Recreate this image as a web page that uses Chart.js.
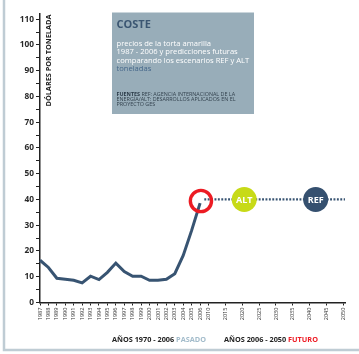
<!DOCTYPE html>
<html>
<head>
<meta charset="utf-8">
<script src="https://cdn.jsdelivr.net/npm/chart.js@4.4.1/dist/chart.umd.min.js"></script>
<style>
  html, body { margin: 0; padding: 0; background: #ffffff; }
  #wrap { width: 359px; height: 354px; position: relative; }
</style>
</head>
<body>
<div id="wrap"><canvas id="c" width="359" height="354"></canvas></div>
<script>
// Yearly yellowcake price, USD per tonne
const years = [1987, 1988, 1989, 1990, 1991, 1992, 1993, 1994, 1995, 1996,
               1997, 1998, 1999, 2000, 2001, 2002, 2003, 2004, 2005, 2006];
const prices = [16.4, 13.6, 9.4, 9.0, 8.6, 7.6, 10.2, 8.9, 11.7, 15.3,
                12.0, 10.2, 10.2, 8.6, 8.6, 9.0, 11.2, 18.3, 28.0, 38.6];

// Axis tick labels along the time axis
const tickYears = [1987, 1988, 1989, 1990, 1991, 1992, 1993, 1994, 1995, 1996,
                   1997, 1998, 1999, 2000, 2001, 2002, 2003, 2004, 2005, 2006,
                   2010, 2015, 2020, 2025, 2030, 2035, 2040, 2045, 2050];

// Future scenarios (price level and year)
const scenarioNames = ['ALT', 'REF'];
const scenarioYears = [2020.6, 2041.8];
const scenarioPrice = 40;
const currentPoint = { year: 2006.4, price: 39.4 };
const projectionSpan = [2008, 2050.5];

// Time axis is compressed after 2006: yearly steps to 2006, then 2006-2010, then 5-year steps
function yearToPos(y) {
  if (y <= 2006) return y - 1987;
  if (y <= 2010) return 19 + (y - 2006) / 4;
  return 20 + (y - 2010) * 2 / 5;
}
const posToLabel = {};
tickYears.forEach(y => { posToLabel[yearToPos(y)] = String(y); });

const lineColor = '#385472';
const fontFam = '"Open Sans", "Noto Sans", sans-serif';

const historyData = years.map((y, i) => ({ x: yearToPos(y), y: prices[i] }));
const projectionData = projectionSpan.map(y => ({ x: yearToPos(y), y: scenarioPrice }));

// Text decorations: frame, axis title, info box, footer legend, bubble labels
const decor = {
  id: 'decor',
  beforeDraw(chart) {
    const ctx = chart.ctx;
    ctx.save();
    ctx.fillStyle = '#ffffff';
    ctx.fillRect(0, 0, chart.width, chart.height);
    ctx.strokeStyle = '#bfccd4';
    ctx.lineWidth = 2.5;
    ctx.beginPath();
    ctx.moveTo(4, 0);
    ctx.lineTo(4, 350);
    ctx.lineTo(359, 350);
    ctx.stroke();
    ctx.restore();
  },
  afterDraw(chart) {
    const ctx = chart.ctx;
    ctx.save();

    // vertical axis title, inside the plot next to the axis
    ctx.save();
    ctx.translate(48.5, 60.5);
    ctx.rotate(-Math.PI / 2);
    ctx.fillStyle = '#222222';
    ctx.font = 'bold 7.3px ' + fontFam;
    ctx.textAlign = 'center';
    ctx.textBaseline = 'middle';
    ctx.fillText('DÓLARES POR TONELADA', 0, 0);
    ctx.restore();

    // info box
    ctx.fillStyle = '#98adb9';
    ctx.fillRect(112, 12.5, 142, 101.5);
    ctx.textBaseline = 'alphabetic';
    ctx.textAlign = 'left';
    ctx.fillStyle = '#3b5672';
    ctx.font = 'bold 11px ' + fontFam;
    ctx.fillText('COSTE', 116.5, 28);
    ctx.font = '7.6px ' + fontFam;
    ctx.fillStyle = '#ffffff';
    const body = ['precios de la torta amarilla',
                  '1987 - 2006 y predicciones futuras',
                  'comparando los escenarios REF y ALT'];
    body.forEach((t, i) => ctx.fillText(t, 116.5, 46 + i * 8.4));
    ctx.fillStyle = '#45678a';
    ctx.fillText('toneladas', 116.5, 46 + 3 * 8.4);

    ctx.font = 'bold 5.4px ' + fontFam;
    ctx.fillStyle = '#2b3b48';
    ctx.fillText('FUENTES', 116.5, 96);
    const fw = ctx.measureText('FUENTES ').width;
    ctx.font = '5.4px ' + fontFam;
    ctx.fillStyle = '#34434f';
    ctx.fillText('REF: AGENCIA INTERNACIONAL DE LA', 116.5 + fw, 96);
    ctx.fillText('ENERGÍA/ALT: DESARROLLOS APLICADOS EN EL', 116.5, 100.8);
    ctx.fillText('PROYECTO GES', 116.5, 105.6);

    // footer legend
    const drawParts = (parts, x, y) => {
      parts.forEach(p => {
        ctx.fillStyle = p.c;
        ctx.fillText(p.t, x, y);
        x += ctx.measureText(p.t).width;
      });
    };
    ctx.font = 'bold 7.3px ' + fontFam;
    drawParts([{ t: 'AÑOS 1970 - 2006 ', c: '#222222' }, { t: 'PASADO', c: '#a3bccb' }], 112, 342);
    drawParts([{ t: 'AÑOS 2006 - 2050 ', c: '#222222' }, { t: 'FUTURO', c: '#ee1c25' }], 224, 342);

    // scenario bubble labels, positioned from the scenario points
    const meta = chart.getDatasetMeta(3);
    ctx.font = 'bold 9px ' + fontFam;
    ctx.fillStyle = '#ffffff';
    ctx.textAlign = 'center';
    ctx.textBaseline = 'middle';
    meta.data.forEach((pt, i) => {
      ctx.fillText(scenarioNames[i], pt.x, pt.y + 0.5);
    });
    ctx.restore();
  }
};

new Chart(document.getElementById('c'), {
  type: 'line',
  data: {
    datasets: [
      {
        label: 'precio',
        data: historyData,
        borderColor: lineColor,
        borderWidth: 3,
        pointRadius: 0,
        tension: 0,
        order: 3,
        clip: false
      },
      {
        label: 'proyección',
        data: projectionData,
        borderColor: lineColor,
        borderWidth: 2.2,
        borderDash: [1.9, 1.5],
        pointRadius: 0,
        order: 4,
        clip: false
      },
      {
        label: 'actual',
        type: 'scatter',
        data: [{ x: yearToPos(currentPoint.year), y: currentPoint.price }],
        pointRadius: 10.6,
        pointBorderWidth: 3.4,
        pointBorderColor: '#ec1b23',
        pointBackgroundColor: 'rgba(0,0,0,0)',
        order: 1,
        clip: false
      },
      {
        label: 'escenarios',
        type: 'scatter',
        data: scenarioYears.map(y => ({ x: yearToPos(y), y: scenarioPrice })),
        pointRadius: 12.5,
        pointBorderWidth: 0,
        pointBackgroundColor: ['#c7da17', '#35506f'],
        order: 0,
        clip: false
      }
    ]
  },
  options: {
    responsive: false,
    animation: false,
    events: [],
    layout: { padding: { top: 12, right: 4, bottom: 0, left: 0 } },
    plugins: { legend: { display: false }, tooltip: { enabled: false } },
    scales: {
      x: {
        type: 'linear',
        min: 0,
        max: 36.2,
        afterFit(s) { s.height = 51.5; },
        afterBuildTicks(s) {
          s.ticks = tickYears.map(y => ({ value: yearToPos(y) }));
        },
        border: { display: true, color: '#222222', width: 1.5 },
        grid: { display: true, drawOnChartArea: false, drawTicks: true, tickLength: 3, color: '#222222', lineWidth: 1 },
        ticks: {
          autoSkip: false,
          minRotation: 90,
          maxRotation: 90,
          padding: 2,
          color: '#333333',
          font: { family: fontFam, size: 5.6 },
          callback: v => posToLabel[v] || ''
        }
      },
      y: {
        type: 'linear',
        min: 0,
        max: 112,
        afterFit(s) { s.width = 40; },
        afterBuildTicks(s) {
          const t = [];
          for (let v = 0; v <= 110; v += 5) t.push({ value: v });
          s.ticks = t;
        },
        border: { display: true, color: '#222222', width: 1.5 },
        grid: { display: true, drawOnChartArea: false, drawTicks: true, tickLength: 4, color: '#222222', lineWidth: 1 },
        ticks: {
          padding: 2,
          color: '#2a2a2a',
          font: { family: fontFam, size: 8.3, weight: 'bold' },
          callback: v => (v % 10 === 0 ? String(v) : '')
        }
      }
    }
  },
  plugins: [decor]
});
</script>
</body>
</html>
